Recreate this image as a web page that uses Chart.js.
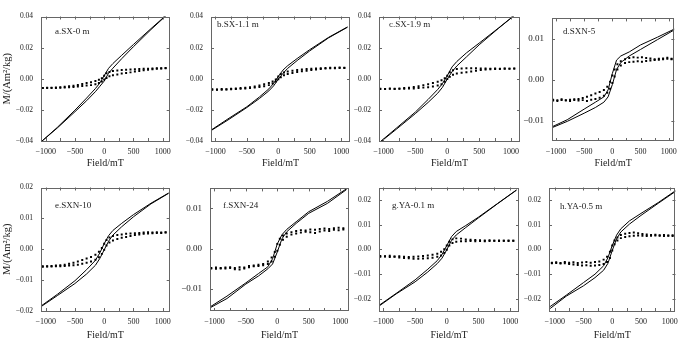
<!DOCTYPE html>
<html>
<head>
<meta charset="utf-8">
<script src="https://cdn.jsdelivr.net/npm/chart.js@4.4.1/dist/chart.umd.min.js"></script>
<style>
  html, body { margin: 0; padding: 0; background: #fff; }
  #wrap { position: relative; width: 700px; height: 344px; overflow: hidden; }
  #wrap canvas { position: absolute; }
</style>
</head>
<body>
<div id="wrap"></div>
<script>
// ---- data ----
const LABELS = ['a.SX-0 m', 'b.SX-1.1 m', 'c.SX-1.9 m', 'd.SXN-5', 'e.SXN-10', 'f.SXN-24', 'g.YA-0.1 m', 'h.YA-0.5 m'];

const X_TICKS = [-1000, -500, 0, 500, 1000];
const X_MINOR = [-1000, -750, -500, -250, 0, 250, 500, 750, 1000];
const X_RANGE = [[-1080, 1120], [-1070, 1140], [-1070, 1140], [-1070, 1100], [-1080, 1120], [-1070, 1140], [-1070, 1140], [-1100, 1100]];

const Y_RANGE = [[-0.04, 0.04], [-0.04, 0.04], [-0.04, 0.04], [-0.015, 0.015], [-0.02, 0.02], [-0.0155, 0.015], [-0.025, 0.025], [-0.025, 0.025]];
const Y_TICKS_04 = [-0.04, -0.02, 0, 0.02, 0.04];
const Y_TICKS_01 = [-0.01, 0, 0.01];
const Y_TICKS_02 = [-0.02, -0.01, 0, 0.01, 0.02];
const Y_TICKS = [Y_TICKS_04, Y_TICKS_04, Y_TICKS_04, Y_TICKS_01, Y_TICKS_02, Y_TICKS_01, Y_TICKS_02, Y_TICKS_02];

// field steps of the measured (solid) loops and of the corrected (dotted) loops, mT
const FIELD_LINE = [-1080, -800, -500, -300, -150, -75, 0, 75, 150, 300, 500, 800, 1100];
const FIELD_DOT = [-1050, -975, -900, -825, -750, -675, -600, -525, -450, -375, -300, -225, -150, -90, -40, 0,
  40, 90, 150, 225, 300, 375, 450, 525, 600, 675, 750, 825, 900, 975, 1050];

// a.SX-0 m
const aLineUp = [-0.0406, -0.0312, -0.0202, -0.0124, -0.0063, -0.0028, 0.002, 0.0067, 0.0098, 0.0151, 0.022, 0.0322, 0.0422];
const aLineLow = [-0.0406, -0.0316, -0.0212, -0.0141, -0.0083, -0.0049, -0.0015, 0.0036, 0.0068, 0.0129, 0.0206, 0.0316, 0.042];
const aDotUp = [-0.0059, -0.0058, -0.0057, -0.0056, -0.0054, -0.0051, -0.0048, -0.0045, -0.004, -0.0034, -0.0028, -0.0022, -0.0015, -0.0006, 0.0004, 0.002,
  0.0035, 0.0044, 0.005, 0.0053, 0.0056, 0.0058, 0.006, 0.0061, 0.0062, 0.0064, 0.0065, 0.0066, 0.0067, 0.0068, 0.0069];
const aDotLow = [-0.006, -0.006, -0.0059, -0.0059, -0.0058, -0.0057, -0.0055, -0.0053, -0.005, -0.0047, -0.0044, -0.0041, -0.0035, -0.0028, -0.0018, -0.0005,
  0.0005, 0.0016, 0.0022, 0.0028, 0.0033, 0.0037, 0.0041, 0.0046, 0.005, 0.0054, 0.0058, 0.0061, 0.0064, 0.0066, 0.0068];

// b.SX-1.1 m
const bLineUp = [-0.0333, -0.0258, -0.018, -0.0117, -0.0065, -0.003, 0.0015, 0.0056, 0.0084, 0.013, 0.0187, 0.0266, 0.0333];
const bLineLow = [-0.0336, -0.0265, -0.0185, -0.0127, -0.0078, -0.0046, -0.0003, 0.0035, 0.0067, 0.0117, 0.0179, 0.0263, 0.0331];
const bDotUp = [-0.0068, -0.0069, -0.0066, -0.0067, -0.0064, -0.0063, -0.006, -0.0058, -0.0055, -0.005, -0.0043, -0.0036, -0.0028, -0.0018, -0.0005, 0.0015,
  0.003, 0.004, 0.0047, 0.0052, 0.0056, 0.006, 0.0062, 0.0064, 0.0066, 0.0067, 0.0069, 0.007, 0.0071, 0.0072, 0.0071];
const bDotLow = [-0.0071, -0.007, -0.007, -0.0069, -0.0068, -0.0066, -0.0065, -0.0063, -0.006, -0.0057, -0.0053, -0.0048, -0.0041, -0.003, -0.0018, -0.0003,
  0.001, 0.0022, 0.003, 0.0037, 0.0043, 0.0048, 0.0052, 0.0056, 0.006, 0.0063, 0.0065, 0.0067, 0.0068, 0.0069, 0.0069];

// c.SX-1.9 m
const cLineUp = [-0.0415, -0.0318, -0.0214, -0.0133, -0.0069, -0.0031, 0.002, 0.0076, 0.0111, 0.0166, 0.0229, 0.0325, 0.0424];
const cLineLow = [-0.0417, -0.0325, -0.0224, -0.0152, -0.0093, -0.0055, -0.0002, 0.0045, 0.0082, 0.014, 0.0218, 0.0323, 0.0423];
const cDotUp = [-0.0064, -0.0065, -0.0063, -0.0064, -0.0062, -0.006, -0.0057, -0.0053, -0.0048, -0.0042, -0.0035, -0.0028, -0.002, -0.001, 0.0003, 0.002,
  0.0042, 0.0055, 0.0062, 0.0066, 0.0068, 0.0068, 0.0067, 0.0066, 0.0066, 0.0065, 0.0066, 0.0065, 0.0066, 0.0065, 0.0066];
const cDotLow = [-0.0066, -0.0066, -0.0065, -0.0066, -0.0065, -0.0064, -0.0063, -0.0062, -0.006, -0.0057, -0.0054, -0.005, -0.0044, -0.0035, -0.002, -0.0002,
  0.0012, 0.0025, 0.0033, 0.0038, 0.0042, 0.0047, 0.0052, 0.0056, 0.0059, 0.0061, 0.0062, 0.0063, 0.0064, 0.0064, 0.0065];

// d.SXN-5
const dLineUp = [-0.0116, -0.0098, -0.0072, -0.0055, -0.0042, -0.0025, 0.0015, 0.0048, 0.0058, 0.0068, 0.0085, 0.0104, 0.0124];
const dLineLow = [-0.0118, -0.0102, -0.0082, -0.0068, -0.0055, -0.0042, -0.0012, 0.0025, 0.0042, 0.0058, 0.0074, 0.0098, 0.0122];
const dDotUp = [-0.0049, -0.005, -0.0048, -0.005, -0.0049, -0.0048, -0.0047, -0.0045, -0.0042, -0.0038, -0.0034, -0.003, -0.0025, -0.0017, -0.0005, 0.001,
  0.0025, 0.0038, 0.0045, 0.005, 0.0053, 0.0055, 0.0054, 0.0055, 0.0053, 0.0052, 0.005, 0.0051, 0.0052, 0.0054, 0.0051];
const dDotLow = [-0.0051, -0.0052, -0.005, -0.0051, -0.0052, -0.005, -0.0051, -0.005, -0.0052, -0.0049, -0.0047, -0.0044, -0.0039, -0.0032, -0.0022, -0.0008,
  0.0008, 0.0025, 0.0035, 0.0041, 0.0043, 0.0044, 0.0045, 0.0044, 0.0046, 0.0047, 0.0048, 0.0049, 0.005, 0.0051, 0.005];

// e.SXN-10
const eLineUp = [-0.0184, -0.0146, -0.0102, -0.0066, -0.0036, -0.0012, 0.0018, 0.0044, 0.0061, 0.0084, 0.0112, 0.0149, 0.0182];
const eLineLow = [-0.0186, -0.015, -0.0111, -0.008, -0.0052, -0.003, -0.0002, 0.0026, 0.0046, 0.0073, 0.0105, 0.0147, 0.0181];
const eDotUp = [-0.0055, -0.0055, -0.0054, -0.0053, -0.0052, -0.005, -0.0047, -0.0044, -0.004, -0.0035, -0.003, -0.0025, -0.0018, -0.0008, 0.0004, 0.0018,
  0.003, 0.0038, 0.0043, 0.0046, 0.0048, 0.005, 0.0051, 0.0052, 0.0053, 0.0054, 0.0055, 0.0054, 0.0055, 0.0054, 0.0055];
const eDotLow = [-0.0057, -0.0056, -0.0056, -0.0055, -0.0055, -0.0054, -0.0053, -0.0052, -0.005, -0.0047, -0.0044, -0.004, -0.0034, -0.0026, -0.0015, -0.0002,
  0.0012, 0.0022, 0.0028, 0.0033, 0.0037, 0.004, 0.0043, 0.0046, 0.0048, 0.005, 0.0051, 0.0052, 0.0053, 0.0053, 0.0054];

// f.SXN-24
const fLineUp = [-0.0146, -0.0118, -0.0085, -0.0062, -0.0045, -0.0025, 0.0012, 0.0035, 0.0048, 0.0067, 0.0092, 0.0118, 0.0149];
const fLineLow = [-0.0148, -0.0124, -0.0088, -0.0068, -0.005, -0.0038, -0.0008, 0.0025, 0.0042, 0.0063, 0.0088, 0.0113, 0.0147];
const fDotUp = [-0.0048, -0.0047, -0.0049, -0.0047, -0.0048, -0.0051, -0.0046, -0.0049, -0.0043, -0.0042, -0.004, -0.0038, -0.0032, -0.0022, -0.0008, 0.0012,
  0.0025, 0.0033, 0.0038, 0.0041, 0.0044, 0.0046, 0.0045, 0.0048, 0.0047, 0.0049, 0.005, 0.0049, 0.0051, 0.0052, 0.0051];
const fDotLow = [-0.0049, -0.005, -0.0048, -0.0049, -0.0046, -0.0048, -0.0052, -0.0047, -0.0046, -0.0044, -0.0043, -0.0041, -0.0038, -0.0032, -0.002, -0.0005,
  0.001, 0.0022, 0.003, 0.0035, 0.0038, 0.004, 0.0042, 0.0041, 0.0039, 0.0043, 0.0045, 0.0044, 0.0047, 0.0046, 0.0048];

// g.YA-0.1 m
const gLineUp = [-0.0229, -0.0179, -0.0124, -0.0081, -0.0046, -0.0021, 0.0015, 0.0051, 0.0072, 0.0096, 0.013, 0.0185, 0.024];
const gLineLow = [-0.0232, -0.0181, -0.0132, -0.0092, -0.0058, -0.0036, -0.0002, 0.0036, 0.0058, 0.0088, 0.0127, 0.0184, 0.0239];
const gDotUp = [-0.0027, -0.0028, -0.0026, -0.0029, -0.0028, -0.003, -0.0031, -0.003, -0.0029, -0.0027, -0.0025, -0.0022, -0.0018, -0.001, 0, 0.0015,
  0.003, 0.004, 0.0044, 0.0043, 0.004, 0.0038, 0.0037, 0.0036, 0.0035, 0.0036, 0.0034, 0.0035, 0.0034, 0.0035, 0.0034];
const gDotLow = [-0.003, -0.0029, -0.0031, -0.003, -0.0033, -0.0035, -0.0036, -0.0038, -0.0039, -0.0037, -0.0036, -0.0034, -0.003, -0.0025, -0.0015, -0.0002,
  0.0015, 0.0025, 0.003, 0.0032, 0.0032, 0.0033, 0.0032, 0.0033, 0.0032, 0.0033, 0.0034, 0.0033, 0.0034, 0.0033, 0.0034];

// h.YA-0.5 m
const hLineUp = [-0.0232, -0.0186, -0.0135, -0.0101, -0.0067, -0.0034, 0.0015, 0.0057, 0.0083, 0.0115, 0.0145, 0.0189, 0.0237];
const hLineLow = [-0.024, -0.019, -0.0148, -0.0115, -0.0085, -0.0057, -0.0005, 0.0042, 0.007, 0.0102, 0.0137, 0.0186, 0.0234];
const hDotUp = [-0.0055, -0.0053, -0.0056, -0.0052, -0.0055, -0.0053, -0.0056, -0.0054, -0.0052, -0.0055, -0.0052, -0.005, -0.0042, -0.003, -0.001, 0.0015,
  0.0035, 0.0048, 0.0058, 0.0063, 0.0066, 0.0068, 0.0065, 0.0062, 0.006, 0.0058, 0.0059, 0.0057, 0.0058, 0.0056, 0.0057];
const hDotLow = [-0.0057, -0.0056, -0.0058, -0.0057, -0.006, -0.0062, -0.0064, -0.0066, -0.0065, -0.0067, -0.0066, -0.0064, -0.006, -0.0052, -0.0035, -0.0005,
  0.002, 0.0035, 0.0045, 0.005, 0.0053, 0.0055, 0.0056, 0.0055, 0.0054, 0.0055, 0.0056, 0.0055, 0.0054, 0.0055, 0.0054];

const SERIES = [
  [aLineUp, aLineLow, aDotUp, aDotLow], [bLineUp, bLineLow, bDotUp, bDotLow],
  [cLineUp, cLineLow, cDotUp, cDotLow], [dLineUp, dLineLow, dDotUp, dDotLow],
  [eLineUp, eLineLow, eDotUp, eDotLow], [fLineUp, fLineLow, fDotUp, fDotLow],
  [gLineUp, gLineLow, gDotUp, gDotLow], [hLineUp, hLineLow, hDotUp, hDotLow],
];

// ---- layout (plot area boxes [left, top, right, bottom] in page px) ----
const BOX = [[41, 10, 171, 141], [211, 10, 350, 141], [379, 10, 520, 141], [552, 11, 677, 141],
  [41, 181, 171, 311], [210, 181, 349, 311], [379, 181, 519, 311], [549, 181, 678, 311]];
const LABEL_OFF = [[14, 17], [6, 10], [10, 10], [11, 16], [14, 20], [13, 20], [13, 20], [11, 21]];
const Y_FONT = [7.5, 7.5, 7.5, 9, 7.5, 9, 7.5, 7.5];
const SERIF = '"Liberation Serif", "Times New Roman", serif';
const INK = '#222';

const minus = s => s.replace('-', '\u2212');
const pts = (xs, ys) => xs.map((x, k) => ({ x, y: ys[k] }));

// box frame, inward ticks and the panel caption
const framePlugin = {
  id: 'frame',
  afterDatasetsDraw(chart, args, opts) {
    const { ctx, chartArea: a, scales: { x, y } } = chart;
    ctx.save();
    ctx.strokeStyle = '#666';
    ctx.lineWidth = 1;
    ctx.beginPath();
    X_MINOR.forEach(v => {
      const px = Math.round(x.getPixelForValue(v)) + 0.5;
      ctx.moveTo(px, a.top); ctx.lineTo(px, a.top + 3);
      ctx.moveTo(px, a.bottom); ctx.lineTo(px, a.bottom - 3);
    });
    opts.yTicks.forEach(v => {
      const py = Math.round(y.getPixelForValue(v)) + 0.5;
      ctx.moveTo(a.left, py); ctx.lineTo(a.left + 3, py);
      ctx.moveTo(a.right, py); ctx.lineTo(a.right - 3, py);
    });
    ctx.stroke();
    ctx.strokeRect(Math.round(a.left) + 0.5, Math.round(a.top) + 0.5, Math.round(a.width) - 1, Math.round(a.height) - 1);
    ctx.fillStyle = INK;
    ctx.font = '9px ' + SERIF;
    ctx.textBaseline = 'alphabetic';
    ctx.fillText(opts.label, a.left + opts.dx, a.top + opts.dy);
    ctx.restore();
  }
};

const wrap = document.getElementById('wrap');

function makePanel(i) {
  const [L, T, R, B] = BOX[i];
  const padTop = 6, padRight = 6, yw = 40, xh = i < 4 ? 28 : 30;
  const cv = document.createElement('canvas');
  cv.width = R - L + yw + padRight;
  cv.height = B - T + padTop + xh;
  cv.style.left = (L - yw) + 'px';
  cv.style.top = (T - padTop) + 'px';
  wrap.appendChild(cv);

  const [lineUp, lineLow, dotUp, dotLow] = SERIES[i];
  const line = d => ({ data: pts(FIELD_LINE, d), showLine: true, borderColor: '#000', borderWidth: 1, pointRadius: 0, tension: 0 });
  const dots = d => ({ data: pts(FIELD_DOT, d), showLine: false, pointStyle: 'rect', pointRadius: 1.4, backgroundColor: '#000', borderWidth: 0 });

  new Chart(cv, {
    type: 'scatter',
    data: { datasets: [line(lineUp), line(lineLow), dots(dotUp), dots(dotLow)] },
    options: {
      responsive: false,
      animation: false,
      devicePixelRatio: 1,
      layout: { padding: { top: padTop, right: padRight, left: 0, bottom: 0 } },
      plugins: {
        legend: { display: false },
        tooltip: { enabled: false },
        frame: { label: LABELS[i], dx: LABEL_OFF[i][0], dy: LABEL_OFF[i][1], yTicks: Y_TICKS[i] },
      },
      scales: {
        x: {
          type: 'linear',
          min: X_RANGE[i][0], max: X_RANGE[i][1],
          afterFit: s => { s.height = xh; },
          afterBuildTicks: s => { s.ticks = X_TICKS.map(v => ({ value: v })); },
          grid: { display: false, drawTicks: false },
          border: { display: false },
          ticks: { padding: 6, color: INK, autoSkip: false, maxRotation: 0, font: { family: SERIF, size: 8 }, callback: v => minus(String(v)) },
          title: { display: true, text: 'Field/mT', color: INK, padding: 0, font: { family: SERIF, size: 10 } },
        },
        y: {
          type: 'linear',
          min: Y_RANGE[i][0], max: Y_RANGE[i][1],
          afterFit: s => { s.width = yw; },
          afterBuildTicks: s => { s.ticks = Y_TICKS[i].map(v => ({ value: v })); },
          grid: { display: false, drawTicks: false },
          border: { display: false },
          ticks: { padding: 8, color: INK, autoSkip: false, font: { family: SERIF, size: Y_FONT[i] }, callback: v => minus(v.toFixed(2)) },
          title: { display: i % 4 === 0, text: 'M/(Am\u00b2/kg)', color: INK, padding: 0, font: { family: SERIF, size: 10.5 } },
        },
      },
    },
    plugins: [framePlugin],
  });
}

for (let i = 0; i < 8; i++) makePanel(i);
</script>
</body>
</html>
